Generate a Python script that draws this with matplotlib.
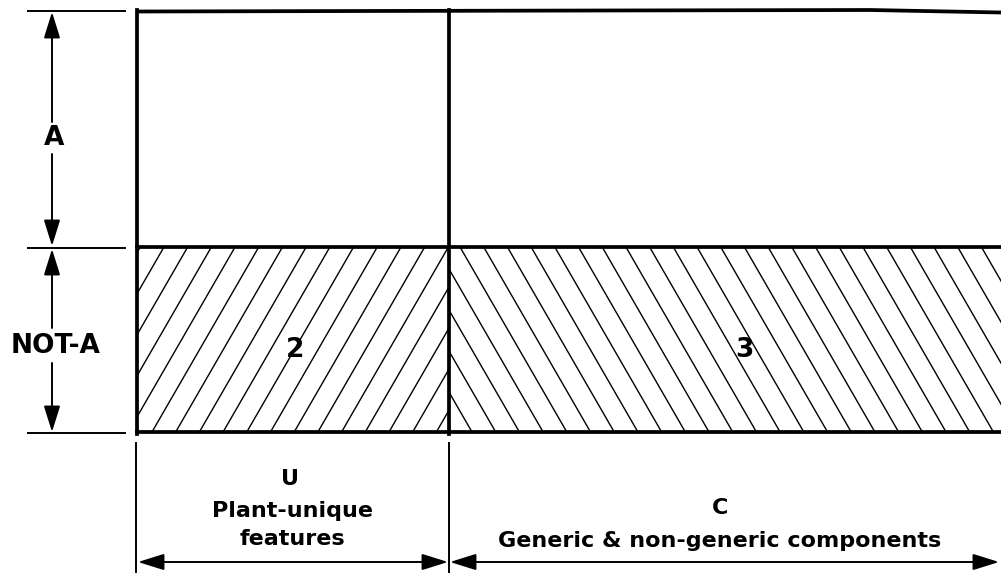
import matplotlib
matplotlib.use('Agg')
import matplotlib.pyplot as plt
import numpy as np
from matplotlib.patches import Rectangle

# diagram content
row_labels = ['A', 'NOT-A']
col_letters = ['U', 'C']
col_names = [['Plant-unique', 'features'], ['Generic & non-generic components']]
region_numbers = ['2', '3']

# layout (pixel units, y downwards)
X0, XD, X1 = 137, 449, 1001
Y_TOP, Y_MID, Y_BOT = 11, 247, 432
ARROW_X = 52
DIM_Y = 562

fig = plt.figure(figsize=(10.01, 5.73), dpi=100)
ax = fig.add_axes([0, 0, 1, 1])
ax.set_xlim(0, 1001)
ax.set_ylim(573, 0)
ax.axis('off')

THICK = 2.7
THIN = 1.4
HATCH_LW = 1.0


def hatch(x0, x1, y0, y1, sign, x_ref, y_ref, spacing=23.7, angle=60):
    # draw slanted hatch lines clipped to rectangle
    t = np.tan(np.radians(angle))
    clip = Rectangle((x0, y0), x1 - x0, y1 - y0, transform=ax.transData)
    for k in range(-40, 41):
        c = x_ref + k * spacing
        if sign > 0:  # '/'
            xs = [c + (y_ref - y0) / t, c + (y_ref - y1) / t]
        else:  # '\'
            xs = [c + (y0 - y_ref) / t, c + (y1 - y_ref) / t]
        ln, = ax.plot(xs, [y0, y1], color='k', lw=HATCH_LW)
        ln.set_clip_path(clip)


hatch(X0, XD, Y_MID, Y_BOT, 1, XD, 287)
hatch(XD, X1 + 10, Y_MID, Y_BOT, -1, 460, Y_MID)

# box outline
ax.plot([X0, 600, 870, X1], [11.5, 10.5, 10, 12.5], color='k', lw=THICK, solid_capstyle='butt')
ax.plot([X0, X0], [Y_TOP - 1, Y_BOT + 1.5], color='k', lw=THICK)
ax.plot([XD, XD], [Y_TOP - 1, Y_BOT + 1.5], color='k', lw=THICK)
ax.plot([X0, X1], [Y_MID, Y_MID], color='k', lw=THICK)
ax.plot([X0, X1], [Y_BOT, Y_BOT], color='k', lw=THICK)

# left dimension extension lines
for yy in [Y_TOP, Y_MID + 1, Y_BOT + 1]:
    ax.plot([28, 125], [yy, yy], color='k', lw=THIN)

# bottom dimension extension lines
ax.plot([X0 - 1, X0 - 1], [443, 573], color='k', lw=THIN)
ax.plot([XD, XD], [443, 573], color='k', lw=THIN)


def arrow(tail, tip, style='-|>'):
    ax.annotate('', xy=tip, xytext=tail,
                arrowprops=dict(arrowstyle=style + ',head_length=0.8,head_width=0.25',
                                mutation_scale=20, lw=THIN, color='k',
                                shrinkA=0, shrinkB=0))


arrow((ARROW_X, 122), (ARROW_X, Y_TOP + 1))
arrow((ARROW_X, 154), (ARROW_X, Y_MID - 1))
arrow((ARROW_X, 328), (ARROW_X, Y_MID + 2))
arrow((ARROW_X, 363), (ARROW_X, Y_BOT))
arrow((X0 + 1, DIM_Y), (XD - 1, DIM_Y), '<|-|>')
arrow((XD + 1, DIM_Y), (X1 - 2, DIM_Y), '<|-|>')

font = dict(family='DejaVu Sans', fontweight='bold', color='k')

ax.text(54, 138, row_labels[0], fontsize=19, ha='center', va='center', **font)
ax.text(56, 346, row_labels[1], fontsize=19, ha='center', va='center', **font)

ax.text(295, 357, region_numbers[0], fontsize=19, ha='center', va='baseline', **font)
ax.text(744, 357, region_numbers[1], fontsize=19, ha='center', va='baseline', **font)

ax.text(290, 485, col_letters[0], fontsize=16, ha='center', va='baseline', **font)
ax.text(292, 517, col_names[0][0], fontsize=16, ha='center', va='baseline', **font)
ax.text(292, 545, col_names[0][1], fontsize=16, ha='center', va='baseline', **font)

ax.text(720, 514, col_letters[1], fontsize=16, ha='center', va='baseline', **font)
ax.text(720, 547, col_names[1][0], fontsize=16, ha='center', va='baseline', **font)

fig.savefig('out.png', dpi=100)
